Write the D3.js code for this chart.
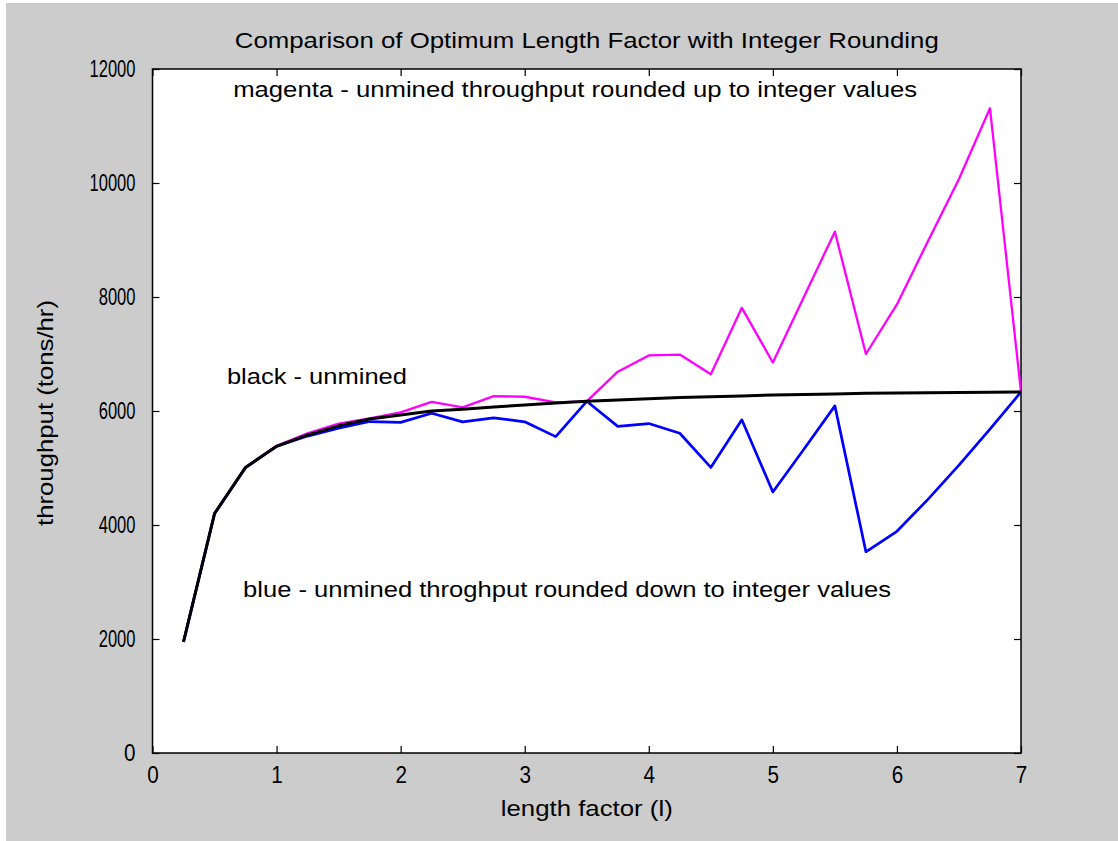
<!DOCTYPE html>
<html>
<head>
<meta charset="utf-8">
<script src="https://cdn.jsdelivr.net/npm/d3@7"></script>
<style>
  html, body { margin: 0; padding: 0; background: #ffffff; }
  svg { display: block; }
  text { font-family: "Liberation Sans", Arial, sans-serif; fill: #000; }
</style>
</head>
<body>
<svg id="chart" width="1118" height="841"></svg>
<script>
// ---- data ----
const lengthFactor = [0.25, 0.5, 0.75, 1.0, 1.25, 1.5, 1.75, 2.0, 2.25, 2.5, 2.75, 3.0, 3.25, 3.5,
                      3.75, 4.0, 4.25, 4.5, 4.75, 5.0, 5.25, 5.5, 5.75, 6.0, 6.25, 6.5, 6.75, 7.0];
const unmined = [1950, 4200, 5010, 5380, 5580, 5740, 5860, 5930, 6000, 6030, 6070, 6105, 6140, 6170,
                 6195, 6215, 6235, 6250, 6265, 6280, 6290, 6300, 6310, 6315, 6320, 6325, 6330, 6335];
const roundedDown = [1950, 4200, 5010, 5380, 5560, 5700, 5815, 5800, 5960, 5810, 5880, 5810, 5550, 6170,
                     5730, 5780, 5610, 5010, 5845, 4580, 5330, 6090, 3530, 3890, 4450, 5050, 5680, 6335];
const roundedUp = [1950, 4200, 5010, 5390, 5610, 5780, 5870, 5975, 6160, 6065, 6260, 6250, 6150, 6170,
                   6690, 6975, 6990, 6645, 7810, 6850, 8000, 9145, 7000, 7870, 8980, 10070, 11310, 6335];
const xTicks = [0, 1, 2, 3, 4, 5, 6, 7];
const yTicks = [0, 2000, 4000, 6000, 8000, 10000, 12000];

const titleText = "Comparison of Optimum Length Factor with Integer Rounding";
const xLabelText = "length factor (l)";
const yLabelText = "throughput (tons/hr)";
const noteTexts = [
  "magenta - unmined throughput rounded up to integer values",
  "black - unmined",
  "blue - unmined throghput rounded down to integer values"
];
const noteX = [0.65, 0.6, 0.73];
const noteY = [11650, 6615, 2875];

// ---- layout / style ----
const W = 1118, H = 841;
const plot = { left: 152.5, right: 1021, top: 69, bottom: 753 };
const noteWidths = [684, 180, 648];
const svg = d3.select("#chart");

svg.append("rect").attr("x", 6).attr("y", 3).attr("width", W - 6).attr("height", H - 3).attr("fill", "#cccccc");
svg.append("rect").attr("x", plot.left).attr("y", plot.top)
  .attr("width", plot.right - plot.left).attr("height", plot.bottom - plot.top).attr("fill", "#ffffff");

const x = d3.scaleLinear().domain([0, 7]).range([plot.left, plot.right]);
const y = d3.scaleLinear().domain([0, 12000]).range([plot.bottom, plot.top]);

const tickFont = "24px";
const tickLen = 7;

const gx = svg.append("g").attr("transform", `translate(0,${plot.bottom})`)
  .call(d3.axisBottom(x).tickValues(xTicks).tickFormat(d3.format("d")).tickSizeInner(-tickLen).tickSizeOuter(0).tickPadding(13));
const gxt = svg.append("g").attr("transform", `translate(0,${plot.top})`)
  .call(d3.axisTop(x).tickValues(xTicks).tickFormat("").tickSizeInner(-tickLen).tickSizeOuter(0));
const gy = svg.append("g").attr("transform", `translate(${plot.left},0)`)
  .call(d3.axisLeft(y).tickValues(yTicks).tickFormat(d3.format("d")).tickSizeInner(-tickLen).tickSizeOuter(0).tickPadding(17));
const gyr = svg.append("g").attr("transform", `translate(${plot.right},0)`)
  .call(d3.axisRight(y).tickValues(yTicks).tickFormat("").tickSizeInner(-tickLen).tickSizeOuter(0));

[gx, gxt, gy, gyr].forEach(g => {
  g.select(".domain").remove();
  g.selectAll(".tick line").attr("stroke", "#000").attr("stroke-width", 1.2);
  g.selectAll(".tick text").attr("font-size", tickFont).attr("font-family", "Liberation Sans, Arial, sans-serif").attr("fill", "#000");
});
// condensed look of the tick labels
gy.selectAll(".tick text").each(function () {
  const t = d3.select(this), n = t.text().length;
  t.attr("textLength", n > 1 ? 9.2 * n : 11.5).attr("lengthAdjust", "spacingAndGlyphs");
});
gx.selectAll(".tick text").attr("textLength", 11.5).attr("lengthAdjust", "spacingAndGlyphs");

svg.append("rect").attr("x", plot.left).attr("y", plot.top)
  .attr("width", plot.right - plot.left).attr("height", plot.bottom - plot.top)
  .attr("fill", "none").attr("stroke", "#000").attr("stroke-width", 1.5);

svg.append("clipPath").attr("id", "clip").append("rect")
  .attr("x", plot.left).attr("y", plot.top).attr("width", plot.right - plot.left).attr("height", plot.bottom - plot.top);

const line = vals => d3.line().x((d, i) => x(lengthFactor[i])).y(d => y(d))(vals);

const lines = svg.append("g").attr("clip-path", "url(#clip)");
lines.append("path").attr("d", line(roundedUp)).attr("fill", "none").attr("stroke", "#ff00ff").attr("stroke-width", 2.3).attr("stroke-linejoin", "round");
lines.append("path").attr("d", line(roundedDown)).attr("fill", "none").attr("stroke", "#0000ff").attr("stroke-width", 2.7).attr("stroke-linejoin", "round");
lines.append("path").attr("d", line(unmined)).attr("fill", "none").attr("stroke", "#000000").attr("stroke-width", 3).attr("stroke-linejoin", "round");

// annotations
noteTexts.forEach((t, i) => {
  svg.append("text").attr("class", "note")
    .attr("x", x(noteX[i])).attr("y", y(noteY[i])).attr("dy", "0.35em")
    .attr("font-size", "22px")
    .attr("textLength", noteWidths[i]).attr("lengthAdjust", "spacingAndGlyphs")
    .text(t);
});

// title and axis labels
const cx = (plot.left + plot.right) / 2;
svg.append("text").attr("x", cx).attr("y", 40).attr("dy", "0.35em")
  .attr("text-anchor", "middle").attr("font-size", "22px")
  .attr("textLength", 704).attr("lengthAdjust", "spacingAndGlyphs").text(titleText);
svg.append("text").attr("x", cx).attr("y", 808).attr("dy", "0.35em")
  .attr("text-anchor", "middle").attr("font-size", "22px")
  .attr("textLength", 172).attr("lengthAdjust", "spacingAndGlyphs").text(xLabelText);
svg.append("text").attr("transform", `translate(45,${(plot.top + plot.bottom) / 2 + 2}) rotate(-90)`).attr("dy", "0.35em")
  .attr("text-anchor", "middle").attr("font-size", "22px")
  .attr("textLength", 226).attr("lengthAdjust", "spacingAndGlyphs").text(yLabelText);
</script>
</body>
</html>
